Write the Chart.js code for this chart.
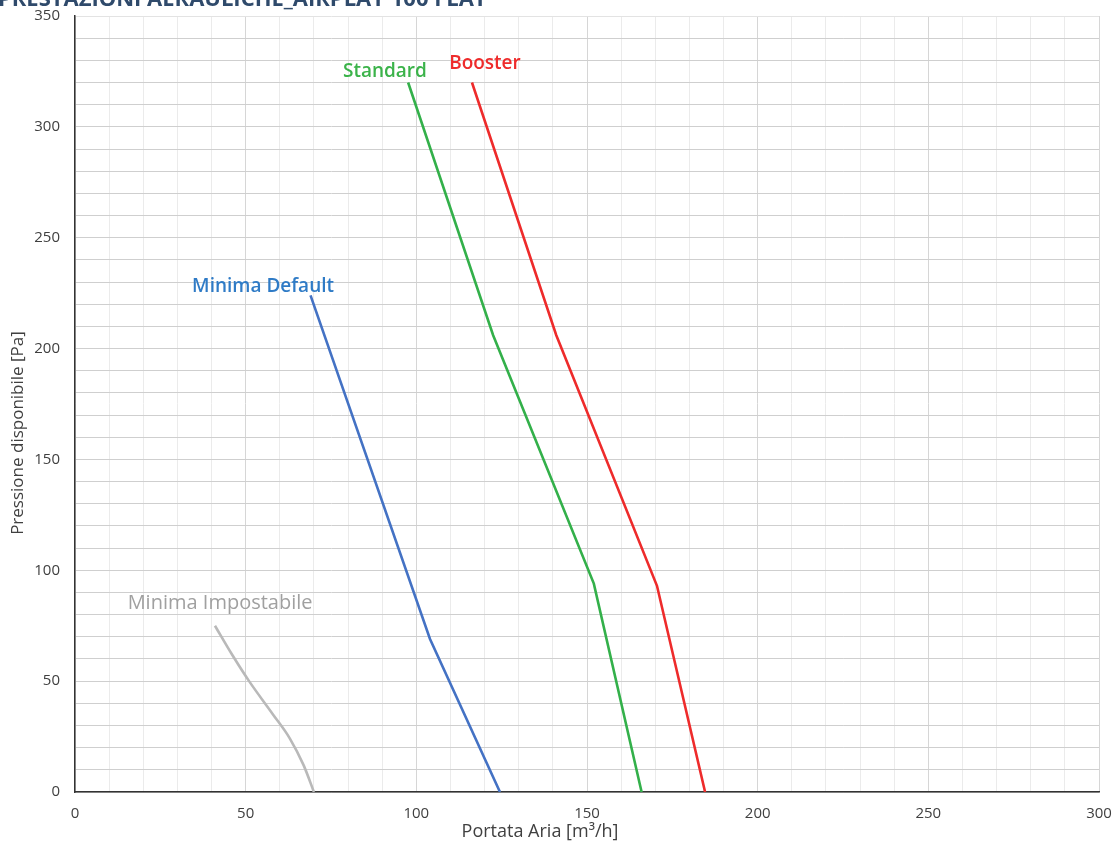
<!DOCTYPE html>
<html>
<head>
<meta charset="utf-8">
<script src="https://cdn.jsdelivr.net/npm/chart.js@4/dist/chart.umd.min.js"></script>
<style>
  html, body { margin: 0; padding: 0; background: #ffffff; }
  #wrap { width: 1115px; height: 843px; position: relative; }
</style>
</head>
<body>
<div id="wrap"><canvas id="c" width="1115" height="843"></canvas></div>
<script>
// Curve points: airflow [m3/h] and available pressure [Pa]
const minImpFlow = [41, 46, 51, 58, 63, 67, 70];
const minImpPressure = [75, 62, 50, 35, 24, 12, 0];

const minDefFlow = [69, 104, 124.5];
const minDefPressure = [224, 69, 0];

const standardFlow = [97.6, 122.5, 152, 166];
const standardPressure = [320, 206, 94, 0];

const boosterFlow = [116.3, 141, 170.5, 184.6];
const boosterPressure = [320, 206, 93, 0];

const xTickLabels = [0, 50, 100, 150, 200, 250, 300];
const yTickLabels = [0, 50, 100, 150, 200, 250, 300, 350];

const seriesNames = ['Minima Impostabile', 'Minima Default', 'Standard', 'Booster'];
const seriesColors = ['#b9b9b9', '#4472c4', '#33b04a', '#ee2b2b'];
const labelColors = ['#a0a0a0', '#2f7bc6', '#3bb34a', '#ee2b2b'];
// label anchors in data units (flow, pressure)
const labelAnchors = [[42.5, 85], [55.1, 228], [90.8, 325], [120.1, 328.5]];

const pts = (xs, ys) => xs.map((x, i) => ({ x: x, y: ys[i] }));

const datasets = [
  { label: seriesNames[0], data: pts(minImpFlow, minImpPressure), borderColor: seriesColors[0], tension: 0.4, cubicInterpolationMode: 'monotone' },
  { label: seriesNames[1], data: pts(minDefFlow, minDefPressure), borderColor: seriesColors[1], tension: 0 },
  { label: seriesNames[2], data: pts(standardFlow, standardPressure), borderColor: seriesColors[2], tension: 0 },
  { label: seriesNames[3], data: pts(boosterFlow, boosterPressure), borderColor: seriesColors[3], tension: 0 }
].map(d => Object.assign(d, { showLine: true, borderWidth: 2.6, pointRadius: 0, fill: false }));

const FONT = "'Open Sans', 'DejaVu Sans', sans-serif";

const textPlugin = {
  id: 'texts',
  afterDraw(chart) {
    const ctx = chart.ctx;
    const xs = chart.scales.x, ys = chart.scales.y;
    ctx.save();
    // series labels
    seriesNames.forEach((name, i) => {
      const a = labelAnchors[i];
      ctx.font = (i === 0 ? '400 20px ' : '600 19px ') + FONT;
      ctx.fillStyle = labelColors[i];
      ctx.textAlign = 'center';
      ctx.textBaseline = 'middle';
      ctx.fillText(name, xs.getPixelForValue(a[0]), ys.getPixelForValue(a[1]));
    });
    // axis titles
    ctx.fillStyle = '#404040';
    ctx.textAlign = 'center';
    ctx.textBaseline = 'middle';
    ctx.font = '18px ' + FONT;
    ctx.fillText('Portata Aria [m³/h]', 540, 832);
    ctx.font = '17px ' + FONT;
    ctx.translate(18, 433);
    ctx.rotate(-Math.PI / 2);
    ctx.fillText('Pressione disponibile [Pa]', 0, 0);
    ctx.restore();
    // heading, clipped by the top edge of the canvas
    ctx.save();
    ctx.font = 'bold 22px ' + FONT;
    ctx.fillStyle = '#2f4a6b';
    ctx.textAlign = 'left';
    ctx.textBaseline = 'alphabetic';
    ctx.fillText('PRESTAZIONI AERAULICHE_AIRPLAY 100 FLAT', -2, 6);
    ctx.restore();
  }
};

new Chart(document.getElementById('c'), {
  type: 'scatter',
  data: { datasets: datasets },
  options: {
    responsive: false,
    animation: false,
    layout: { padding: { left: 0, top: 16, right: 16, bottom: 0 } },
    plugins: { legend: { display: false }, tooltip: { enabled: false } },
    scales: {
      x: {
        type: 'linear', min: 0, max: 300,
        afterFit: s => { s.height = 51; s.paddingLeft = 0; s.paddingRight = 0; },
        ticks: {
          stepSize: 10, autoSkip: false, maxRotation: 0,
          padding: 13, color: '#404040', font: { family: FONT, size: 15 },
          callback: v => (xTickLabels.includes(v) ? String(v) : '')
        },
        grid: {
          drawTicks: false,
          color: c => (c.tick && c.tick.value % 50 === 0 ? '#d6d6d6' : '#ebebeb'),
          lineWidth: 1
        },
        border: { display: true, color: '#333333', width: 1.5 }
      },
      y: {
        type: 'linear', min: 0, max: 350,
        afterFit: s => { s.width = 75; s.paddingTop = 0; s.paddingBottom = 0; },
        ticks: {
          stepSize: 10, autoSkip: false,
          padding: 15, color: '#404040', font: { family: FONT, size: 15 },
          callback: v => (yTickLabels.includes(v) ? String(v) : '')
        },
        grid: {
          drawTicks: false,
          color: c => (c.tick && c.tick.value === 350 ? '#e3e3e3' : '#cfcfcf'),
          lineWidth: 1
        },
        border: { display: true, color: '#333333', width: 1.5 }
      }
    }
  },
  plugins: [textPlugin]
});
</script>
</body>
</html>
